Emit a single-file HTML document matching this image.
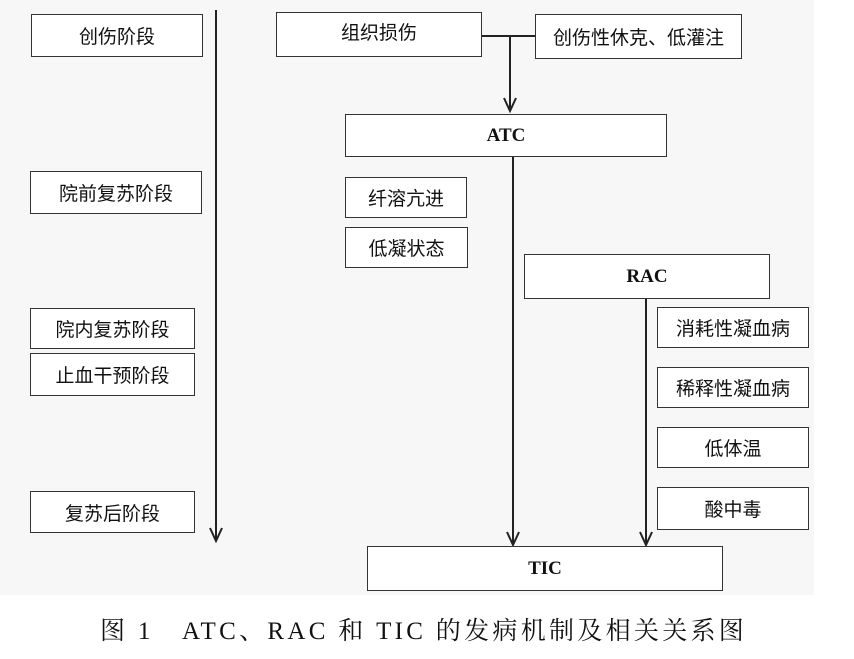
<!DOCTYPE html>
<html><head><meta charset="utf-8"><style>
body{margin:0;width:854px;height:659px;background:#fff;position:relative;overflow:hidden;font-family:"Liberation Serif","Noto Serif CJK SC",serif;}
#bg{position:absolute;left:0;top:0;width:814px;height:595px;background:#f7f7f7;}
.b{position:absolute;box-sizing:border-box;border:1.5px solid #333;background:#fff;display:flex;align-items:center;justify-content:center;font-size:19px;color:#111;font-family:"Liberation Serif","Noto Sans CJK SC",sans-serif;}
.e{font-weight:bold;font-family:"Liberation Serif",serif;font-size:19px;}
svg{position:absolute;left:0;top:0;}
#cap{position:absolute;left:100px;top:611px;white-space:nowrap;font-size:25px;letter-spacing:3.3px;color:#111;}
</style></head><body>
<div id="bg"></div>
<svg width="854" height="659">
<g stroke="#222" stroke-width="2" fill="none">
<line x1="216" y1="10" x2="216" y2="541"/><polyline points="210,528 216,541 222,528"/>
<line x1="482" y1="36" x2="535" y2="36"/>
<line x1="510" y1="36" x2="510" y2="111"/><polyline points="504,98 510,111 516,98"/>
<line x1="513" y1="157" x2="513" y2="545"/><polyline points="507,532 513,545 519,532"/>
<line x1="646" y1="299" x2="646" y2="545"/><polyline points="640,532 646,545 652,532"/>
</g></svg>
<div class="b" style="left:31px;top:14px;width:172px;height:43px">创伤阶段</div>
<div class="b" style="left:30px;top:171px;width:172px;height:43px">院前复苏阶段</div>
<div class="b" style="left:30px;top:308px;width:165px;height:41px">院内复苏阶段</div>
<div class="b" style="left:30px;top:353px;width:165px;height:43px">止血干预阶段</div>
<div class="b" style="left:30px;top:491px;width:165px;height:42px">复苏后阶段</div>
<div class="b" style="left:276px;top:12px;width:206px;height:45px;padding-bottom:6px">组织损伤</div>
<div class="b" style="left:535px;top:14px;width:207px;height:45px">创伤性休克、低灌注</div>
<div class="b e" style="left:345px;top:114px;width:322px;height:43px">ATC</div>
<div class="b" style="left:345px;top:177px;width:122px;height:41px">纤溶亢进</div>
<div class="b" style="left:345px;top:227px;width:123px;height:41px">低凝状态</div>
<div class="b e" style="left:524px;top:254px;width:246px;height:45px">RAC</div>
<div class="b" style="left:657px;top:307px;width:152px;height:41px">消耗性凝血病</div>
<div class="b" style="left:657px;top:367px;width:152px;height:41px">稀释性凝血病</div>
<div class="b" style="left:657px;top:427px;width:152px;height:41px">低体温</div>
<div class="b" style="left:657px;top:487px;width:152px;height:43px">酸中毒</div>
<div class="b e" style="left:367px;top:546px;width:356px;height:45px">TIC</div>
<div id="cap">图 1　ATC、RAC 和 TIC 的发病机制及相关关系图</div>
</body></html>
